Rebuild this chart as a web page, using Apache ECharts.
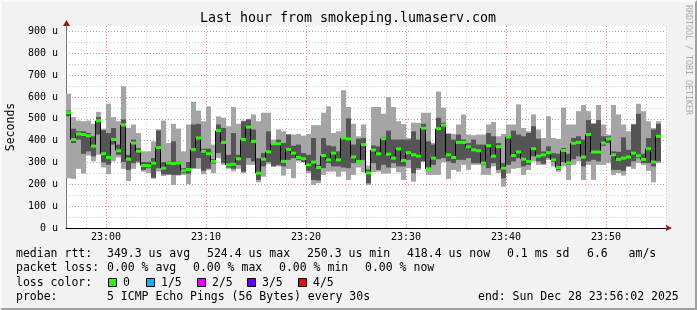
<!DOCTYPE html>
<html>
<head>
<meta charset="utf-8">
<script src="https://cdn.jsdelivr.net/npm/echarts@6/dist/echarts.min.js"></script>
<style>
html,body{margin:0;padding:0;background:#f2f2f2;}
#wrap{width:697px;height:310px;box-sizing:border-box;border-top:2px solid #fafafa;border-left:2px solid #fafafa;border-right:2px solid #a0a0a0;border-bottom:2px solid #a0a0a0;position:relative;overflow:hidden;background:#f2f2f2;}
#chart{position:absolute;left:-2px;top:-2px;width:697px;height:310px;}
</style>
</head>
<body>
<div id="wrap"><div id="chart"></div></div>
<script>
// ---- data (microseconds, one entry per 30 s step) ----
const firstStepMinute = 56;   // 22:56:00, minutes after 22:00
const stepMinutes = 0.5;      // 30 s
const minVals = [228,225,271,249,332,305,335,277,246,305,323,271,215,271,297,258,251,225,258,238,243,197,240,243,200,271,271,246,266,251,320,289,271,260,271,251,289,289,209,235,292,282,282,240,271,228,305,302,251,197,205,243,258,258,235,258,220,243,277,255,197,255,258,249,249,274,255,220,274,212,266,305,243,243,243,302,225,266,258,289,266,289,289,243,243,282,251,189,251,271,274,243,266,305,289,289,312,282,258,282,220,289,305,220,289,220,289,289,297,243,251,240,282,271,297,289,262,209,297];
const p2Vals  = [512,389,405,340,351,328,428,300,290,382,335,302,266,297,305,266,274,231,274,246,246,243,243,251,249,274,320,262,272,295,343,298,277,271,289,258,320,305,220,282,302,282,289,282,312,320,312,302,262,220,218,274,297,282,282,277,274,297,302,312,205,297,266,289,277,297,282,282,312,251,274,305,266,289,315,320,305,297,312,312,320,297,297,289,274,297,266,228,289,305,320,282,289,328,305,294,320,302,266,302,289,315,328,282,305,312,305,377,389,266,266,262,282,305,320,297,297,282,305];
const medVals = [528,405,431,428,422,375,491,340,323,405,354,472,315,389,352,286,285,297,368,274,298,295,298,262,268,359,412,351,340,305,446,392,289,292,317,405,462,397,251,315,349,386,386,305,360,343,323,317,289,302,277,332,312,343,312,412,408,325,305,382,252,357,340,409,338,320,362,309,345,335,329,457,271,320,455,471,335,323,392,392,372,358,354,297,377,329,372,274,417,332,348,315,305,363,329,335,345,312,277,355,298,388,392,325,428,348,348,389,408,335,314,320,325,343,331,314,363,302,420];
const p4Vals  = [538,455,443,443,435,420,508,448,435,458,382,497,335,405,366,302,302,320,446,302,305,397,305,274,302,474,477,363,363,315,474,458,335,435,335,489,497,451,320,343,443,389,405,389,428,377,382,343,335,412,289,412,378,374,351,415,502,382,409,412,268,378,374,417,446,405,405,405,405,443,405,477,397,382,505,482,431,405,428,405,389,405,382,382,435,420,389,297,420,446,428,420,435,466,409,351,374,343,340,366,340,412,420,405,494,477,494,420,420,351,349,415,358,474,523,340,412,451,477];
const maxVals = [615,508,492,489,492,477,532,455,569,508,489,649,458,474,435,351,351,397,452,492,389,477,455,351,474,578,538,489,557,382,511,505,466,554,477,492,500,520,489,528,528,405,451,443,430,428,431,423,431,471,471,528,557,435,443,631,554,477,420,474,286,554,554,523,600,554,489,477,412,482,482,528,528,390,625,551,434,431,474,520,428,425,428,428,474,486,420,431,474,474,566,458,443,520,451,412,512,412,408,551,474,474,535,563,535,480,563,474,428,563,520,474,443,477,569,535,489,458,489];

const titleText = 'Last hour from smokeping.lumaserv.com';
const yTitle = 'Seconds';
const medianStats = ['349.3 us avg', '524.4 us max', '250.3 us min', '418.4 us now', '0.1 ms sd', '6.6   am/s'];
const lossStats = ['0.00 % avg', '0.00 % max', '0.00 % min', '0.00 % now'];
const lossLabels = ['0', '1/5', '2/5', '3/5', '4/5'];
const lossColors = ['#26ff00', '#00b8ff', '#dd00ff', '#5e00ff', '#ff0000'];
const probeText = '5 ICMP Echo Pings (56 Bytes) every 30s';
const endText = 'end: Sun Dec 28 23:56:02 2025';
const sideText = 'RRDTOOL / TOBI OETIKER';

// ---- build ----
const rows = medVals.map((m, i) => [
  firstStepMinute + i * stepMinutes,
  firstStepMinute + (i + 1) * stepMinutes,
  minVals[i], p2Vals[i], m, p4Vals[i], maxVals[i]
]);

const MONO = '"DejaVu Sans Mono", monospace';
const chart = echarts.init(document.getElementById('chart'), null, {renderer: 'canvas'});

function smokeItem(params, api) {
  const x0 = api.coord([api.value(0), 0])[0];
  const x1 = api.coord([api.value(1), 0])[0];
  const yMin = api.coord([0, api.value(2)])[1];
  const yP2 = api.coord([0, api.value(3)])[1];
  const yP4 = api.coord([0, api.value(5)])[1];
  const yMax = api.coord([0, api.value(6)])[1];
  return {type: 'group', children: [
    {type: 'rect', shape: {x: x0, y: yMax, width: x1 - x0, height: yMin - yMax}, style: {fill: '#a5a5a5'}},
    {type: 'rect', shape: {x: x0, y: yP4, width: x1 - x0, height: yP2 - yP4}, style: {fill: '#555555'}}
  ]};
}
function connectorItem(params, api) {
  const i = params.dataIndex;
  if (i === 0) return null;
  const x0 = api.coord([api.value(0), 0])[0] - 0.5;
  const yPrev = api.coord([0, medVals[i - 1]])[1];
  const yCur = api.coord([0, api.value(4)])[1];
  return {type: 'line', shape: {x1: x0, y1: yPrev, x2: x0, y2: yCur}, style: {stroke: '#000', lineWidth: 1}};
}
function medianItem(params, api) {
  const x0 = api.coord([api.value(0), 0])[0];
  const x1 = api.coord([api.value(1), 0])[0];
  const y = api.coord([0, api.value(4)])[1];
  return {type: 'rect', shape: {x: x0, y: y - 1.5, width: x1 - x0, height: 3}, style: {fill: lossColors[0]}};
}

const graphics = [];
graphics.push({type: 'text', x: 348, y: 19, style: {text: titleText, font: '13.3px ' + MONO, fill: '#000', textAlign: 'center', textVerticalAlign: 'middle'}});
graphics.push({type: 'text', x: 688, y: 60, rotation: -Math.PI / 2, style: {text: sideText, font: '8.3px ' + MONO, fill: '#aaaaaa', textAlign: 'center', textVerticalAlign: 'middle'}});
graphics.push({type: 'text', x: 11.5, y: 127, rotation: Math.PI / 2, style: {text: yTitle, font: '11.5px ' + MONO, fill: '#000', textAlign: 'center', textVerticalAlign: 'middle'}});
// arrows
graphics.push({type: 'polygon', shape: {points: [[666, 228 - 3], [672, 228], [666, 228 + 3]]}, style: {fill: '#8b1a1a'}});
graphics.push({type: 'polygon', shape: {points: [[63, 26], [66.5, 20], [70, 26]]}, style: {fill: '#8b1a1a'}});
// legend
const LF = '11.5px ' + MONO;
const rowY = [254, 268.5, 283, 297.5];
function addText(t, x, y) {
  graphics.push({type: 'text', x: x, y: y, style: {text: t, font: LF, fill: '#000', textAlign: 'left', textVerticalAlign: 'middle'}});
}
addText('median rtt:', 16, rowY[0]);
const medX = [107, 207, 307, 407, 507, 587];
medianStats.forEach((t, i) => addText(t, medX[i], rowY[0]));
addText('packet loss:', 16, rowY[1]);
const lossX = [107, 193, 279, 365];
lossStats.forEach((t, i) => addText(t, lossX[i], rowY[1]));
addText('loss color:', 16, rowY[2]);
const boxX = [108, 146, 197, 247, 298];
lossLabels.forEach((t, i) => {
  graphics.push({type: 'rect', shape: {x: boxX[i] + 0.5, y: 278.5, width: 8, height: 8}, style: {fill: lossColors[i], stroke: '#000', lineWidth: 1}});
  addText(t, boxX[i] + 15, rowY[2]);
});
addText('probe:', 16, rowY[3]);
addText(probeText, 107, rowY[3]);
addText(endText, 478, rowY[3]);

const option = {
  animation: false,
  backgroundColor: '#f2f2f2',
  grid: {left: 66, top: 26, width: 600, height: 202, show: true, backgroundColor: '#ffffff', borderWidth: 0, containLabel: false, outerBoundsMode: 'none'},
  xAxis: {
    type: 'value', min: 56, max: 116, interval: 2,
    axisLine: {show: true, lineStyle: {color: '#000', width: 1}},
    axisTick: {show: false},
    axisLabel: {
      color: '#000', fontFamily: MONO, fontSize: 10, margin: 4,
      showMinLabel: false, showMaxLabel: false,
      formatter: v => (v % 10 === 0 && v >= 60 && v < 120) ? '23:' + String(v - 60).padStart(2, '0') : ''
    },
    splitLine: {show: true, lineStyle: {color: ['#cccccc', '#cccccc', '#e39090', '#cccccc', '#cccccc'], type: [1, 2], width: 1}}
  },
  yAxis: {
    type: 'value', min: 0, max: 925, interval: 50,
    axisLine: {show: true, lineStyle: {color: '#777', width: 1}},
    axisTick: {show: false},
    axisLabel: {
      color: '#000', fontFamily: MONO, fontSize: 10, margin: 8, showMaxLabel: false,
      formatter: v => (v % 100 === 0) ? v + ' u' : ''
    },
    splitLine: {show: true, showMaxLine: false, lineStyle: {color: ['#e39090', '#cccccc'], type: [1, 2], width: 1}}
  },
  series: [
    {type: 'custom', name: 'smoke', data: rows, renderItem: smokeItem, encode: {x: [0, 1], y: [2, 6]}, clip: true, z: 2},
    {type: 'custom', name: 'connect', data: rows, renderItem: connectorItem, encode: {x: [0, 1], y: 4}, clip: true, z: 3},
    {type: 'custom', name: 'median', data: rows, renderItem: medianItem, encode: {x: [0, 1], y: 4}, clip: true, z: 4}
  ],
  graphic: graphics
};
chart.setOption(option);
</script>
</body>
</html>
